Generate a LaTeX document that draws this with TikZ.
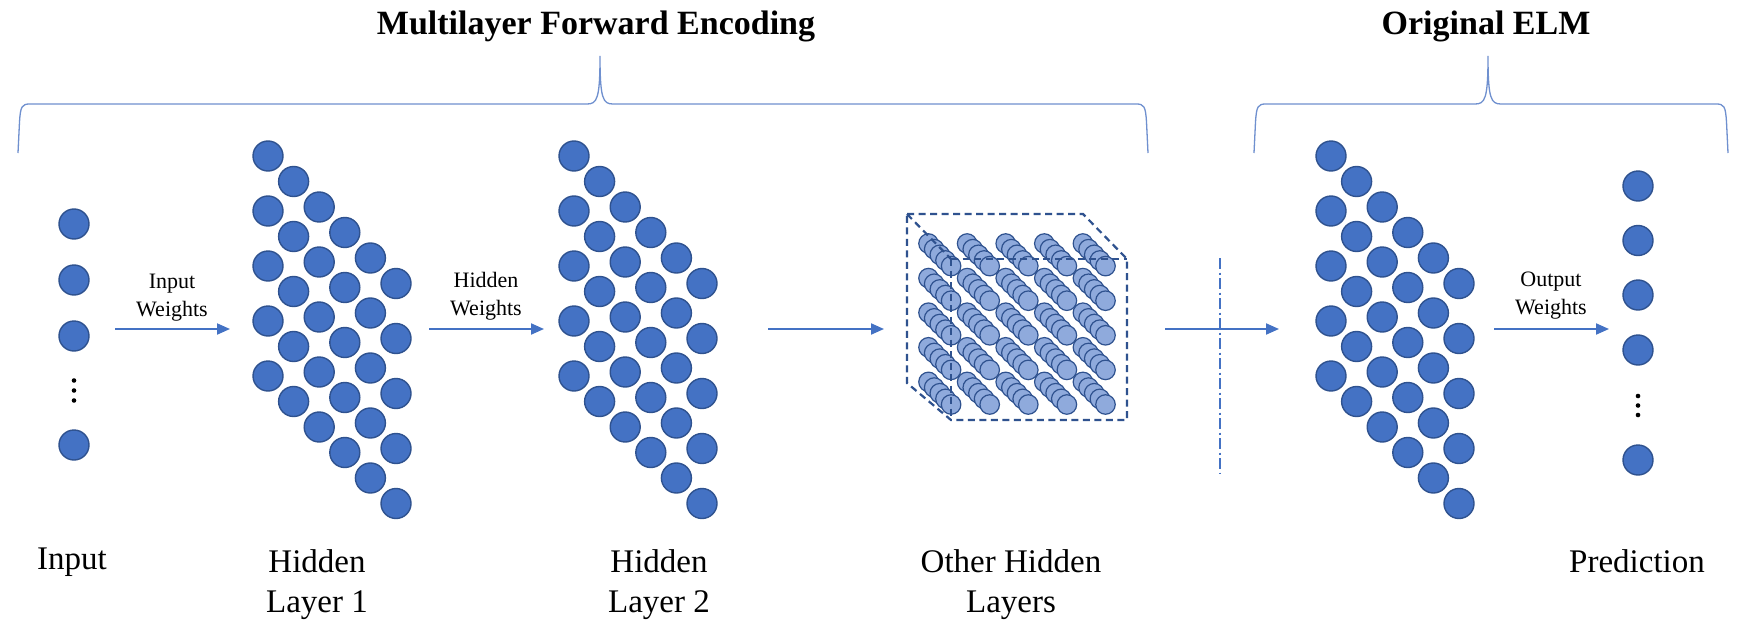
\documentclass[tikz,border=0pt]{standalone}
\usepackage{fontspec}
\setmainfont{Liberation Serif}
\usetikzlibrary{arrows.meta}
\definecolor{nodeblue}{HTML}{4472C4}
\definecolor{edgeblue}{HTML}{2F528F}
\definecolor{lightblue}{HTML}{8FAADC}
\definecolor{bracecol}{HTML}{6F90CF}
\begin{document}
\begin{tikzpicture}[x=1pt,y=-1pt,
 neuron/.style={circle,draw=edgeblue,fill=nodeblue,line width=1.4pt,minimum size=30pt,inner sep=0pt},
 lneuron/.style={circle,draw=edgeblue,fill=lightblue,line width=1.2pt,minimum size=19.5pt,inner sep=0pt},
 dotn/.style={circle,fill=black,minimum size=4.6pt,inner sep=0pt},
 flow/.style={draw=nodeblue,line width=2pt,-{Triangle[length=13pt,width=11pt]}},
 bracepath/.style={draw=bracecol,line width=1.3pt},
 cubeline/.style={draw=edgeblue,line width=2.2pt,dash pattern=on 7pt off 4.5pt},
 sepline/.style={draw=nodeblue,line width=1.5pt,dash pattern=on 11pt off 3.5pt on 2pt off 3.5pt},
 titletext/.style={font=\fontsize{34}{40}\selectfont\bfseries,anchor=base,inner sep=0pt},
 layerlabel/.style={font=\fontsize{33}{40}\selectfont,align=center,anchor=north,inner sep=0pt},
 wlabel/.style={font=\fontsize{22}{28}\selectfont,align=center,anchor=north,inner sep=0pt},
]
\useasboundingbox (0,0) rectangle (1746,634);
\fill[white] (0,0) rectangle (1746,634);

% titles
\node[titletext] (t1) at (596,35) {Multilayer Forward Encoding};
\node[titletext] (t2) at (1486,35) {Original ELM};

% braces
\draw[bracepath] (18,153) -- (19.5,122) .. controls (20.5,106) and (22,104) .. (30,104)
  -- (587,104) .. controls (597,104) and (600,99) .. (600,56)
  .. controls (600,99) and (603,104) .. (613,104)
  -- (1136,104) .. controls (1144,104) and (1145.5,106) .. (1146.5,122) -- (1148,153);
\draw[bracepath] (1254,153) -- (1255.5,122) .. controls (1256.5,106) and (1258,104) .. (1266,104)
  -- (1475,104) .. controls (1485,104) and (1488,99) .. (1488,56)
  .. controls (1488,99) and (1491,104) .. (1501,104)
  -- (1716,104) .. controls (1724,104) and (1725.5,106) .. (1726.5,122) -- (1728,153);

% input layer
\foreach \y [count=\n] in {224,280,336,445} \node[neuron] (in\n) at (74,\y) {};
\foreach \y [count=\n] in {380.5,390.5,400.5} \node[dotn] (ind\n) at (74,\y) {};

% hidden layers (triangular stacks)
\foreach \x/\l in {268/a,574/b,1331/c}{
  \foreach \i in {0,...,5}{
    \foreach \j in {0,...,4}{
      \node[neuron] (h\l-\i-\j) at ({\x+25.6*\i},{156+25.5*\i+55*\j}) {};
    }
  }
}

% other hidden layers: cube
\foreach \i in {0,...,4}{
  \foreach \j in {0,...,4}{
    \foreach \k in {0,...,4}{
      \node[lneuron] (c-\i-\j-\k) at ({928.5+38.6*\i+5.65*\k},{243.5+34.6*\j+5.65*\k}) {};
    }
  }
}
\coordinate (btl) at (907,214);
\coordinate (btr) at (1083,214);
\coordinate (ftr) at (1127,259);
\coordinate (fbr) at (1127,420);
\coordinate (fbl) at (951,420);
\coordinate (bbl) at (907,383);
\coordinate (ftl) at (951,259);
\draw[cubeline] (btl) -- (btr) -- (ftr) -- (fbr) -- (fbl) -- (bbl) -- cycle;
\draw[cubeline] (btl) -- (ftl);
\draw[cubeline] (ftl) -- (ftr);
\draw[cubeline] (ftl) -- (fbl);

% output layer
\foreach \y [count=\n] in {186,240.5,295,350,460} \node[neuron] (out\n) at (1638,\y) {};
\foreach \y [count=\n] in {396,405.5,415} \node[dotn] (outd\n) at (1638,\y) {};

% separator
\coordinate (sepT) at (1220,258);
\coordinate (sepB) at (1220,474);
\draw[sepline] (sepT) -- (sepB);

% arrows
\coordinate (a1s) at (115,329); \coordinate (a1e) at (230,329);
\coordinate (a2s) at (429,329); \coordinate (a2e) at (544,329);
\coordinate (a3s) at (768,329); \coordinate (a3e) at (884,329);
\coordinate (a4s) at (1165,329); \coordinate (a4e) at (1279,329);
\coordinate (a5s) at (1494,329); \coordinate (a5e) at (1609,329);
\draw[flow] (a1s) -- (a1e);
\draw[flow] (a2s) -- (a2e);
\draw[flow] (a3s) -- (a3e);
\draw[flow] (a4s) -- (a4e);
\draw[flow] (a5s) -- (a5e);

% arrow labels
\node[wlabel] (w1) at (172,273.4) {Input\\Weights};
\node[wlabel] (w2) at (486,272) {Hidden\\Weights};
\node[wlabel] (w3) at (1551,271.8) {Output\\Weights};

% layer labels
\node[layerlabel] (l1) at (72,548) {Input};
\node[layerlabel] (l2) at (317,549.5) {Hidden\\Layer 1};
\node[layerlabel] (l3) at (659,549.5) {Hidden\\Layer 2};
\node[layerlabel] (l4) at (1011,549.5) {Other Hidden\\Layers};
\node[layerlabel] (l5) at (1637,549.5) {Prediction};
\end{tikzpicture}
\end{document}
